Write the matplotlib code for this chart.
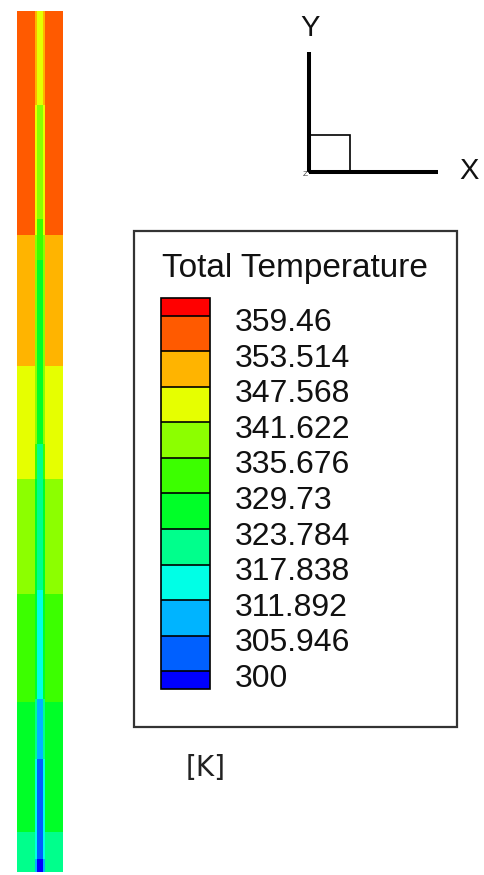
import numpy as np
import matplotlib
matplotlib.use('Agg')
import matplotlib.pyplot as plt
from matplotlib.colors import ListedColormap, BoundaryNorm
from matplotlib.cm import ScalarMappable
from matplotlib.patches import Rectangle
import matplotlib.transforms as mtransforms

plt.rcParams['font.family'] = ['Liberation Sans', 'DejaVu Sans']

# ---------------- data ----------------
levels = [300, 305.946, 311.892, 317.838, 323.784, 329.73, 335.676,
          341.622, 347.568, 353.514, 359.46]
level_labels = ['300', '305.946', '311.892', '317.838', '323.784', '329.73',
                '335.676', '341.622', '347.568', '353.514', '359.46']
band_colors = ['#0060ff', '#00b4ff', '#00ffe6', '#00ff8c', '#00ff28',
               '#3cff00', '#8cff00', '#e6ff00', '#ffb400', '#ff5a00']
under_color = '#0000ff'
over_color = '#ff0000'

# outer (wall-side) region: normalized height edges (bottom -> top) and temperatures [K]
wall_z_edges = [0.0, 0.046, 0.197, 0.323, 0.456, 0.588, 0.740, 1.0]
wall_T = [320.8, 326.8, 332.7, 338.6, 344.6, 350.5, 356.5]

# central core line: normalized height edges and temperatures [K]
core_z_edges = [0.0, 0.015, 0.131, 0.201, 0.328, 0.497, 0.711, 0.758, 0.891, 1.0]
core_T = [298.0, 303.0, 308.9, 314.9, 320.8, 326.8, 332.7, 338.6, 344.6]

# ---------------- figure ----------------
W, H = 485, 875
fig = plt.figure(figsize=(W / 100, H / 100), dpi=100)
fig.patch.set_facecolor('white')

cmap = ListedColormap(band_colors)
cmap.set_under(under_color)
cmap.set_over(over_color)
norm = BoundaryNorm(levels, cmap.N)

# overlay axes in pixel coordinates for annotations
axo = fig.add_axes([0, 0, 1, 1], zorder=0)
axo.set_xlim(0, W)
axo.set_ylim(H, 0)
axo.axis('off')

# ---- strip contour ----
ax = fig.add_axes([17 / W, (H - 872) / H, 46 / W, 861 / H], zorder=2)
z_edges = np.unique(np.concatenate([wall_z_edges, core_z_edges]))
zc = 0.5 * (z_edges[:-1] + z_edges[1:])
Tw = np.array(wall_T)[np.searchsorted(wall_z_edges, zc, side='right') - 1]
Tc = np.array(core_T)[np.searchsorted(core_z_edges, zc, side='right') - 1]
Tr = 0.5 * (Tw + Tc)
C = np.column_stack([Tw, Tr, Tc, Tr, Tw])
x_edges = [-1, -0.21, -0.12, 0.12, 0.21, 1]
ax.pcolormesh(x_edges, z_edges, C, cmap=cmap, norm=norm, shading='flat')
ax.set_xlim(-1, 1)
ax.set_ylim(0, 1)
ax.axis('off')

# ---- coordinate triad ----
axo.plot([309, 309], [52, 172], color='black', lw=2.9, solid_capstyle='butt')
axo.plot([309, 438], [172, 172], color='black', lw=2.9, solid_capstyle='butt')
axo.add_patch(Rectangle((309, 135), 41, 37, fill=False, lw=1.2, edgecolor='black'))
axo.text(310, 28, 'Y', ha='center', va='center', fontsize=21, color='#111111')
axo.text(469, 171, 'X', ha='center', va='center', fontsize=21, color='#111111')
axo.text(305, 174, 'Z', ha='center', va='center', fontsize=6, color='#444444')

# ---- legend box ----
axo.add_patch(Rectangle((134, 231), 323, 496, facecolor='white',
                        edgecolor='#333333', lw=1.6))
axo.text(295, 277, 'Total Temperature', ha='center', va='baseline',
         fontsize=24, color='#111111')

cax = fig.add_axes([161 / W, (H - 689) / H, 49 / W, 391 / H], zorder=3)
sm = ScalarMappable(norm=norm, cmap=cmap)
cb = fig.colorbar(sm, cax=cax, extend='both', extendfrac=0.05,
                  extendrect=True, drawedges=True, ticks=levels)
cb.set_ticklabels(level_labels)
cb.ax.tick_params(length=0, pad=18, labelsize=23, labelcolor='#111111')
cb.outline.set_linewidth(1.2)
cb.outline.set_edgecolor('black')
cb.dividers.set_linewidth(1.2)
cb.dividers.set_color('black')
offset = mtransforms.ScaledTranslation(0, -4 / 100, fig.dpi_scale_trans)
for tick in cb.ax.yaxis.get_major_ticks():
    tick.label1.set_transform(tick.label1.get_transform() + offset)
    tick.label2.set_transform(tick.label2.get_transform() + offset)

axo.text(206, 768, '[K]', ha='center', va='center', fontsize=20,
         family=['Liberation Sans Narrow', 'DejaVu Sans Condensed', 'DejaVu Sans'],
         color='#222222')

fig.savefig('out.png', dpi=100)
